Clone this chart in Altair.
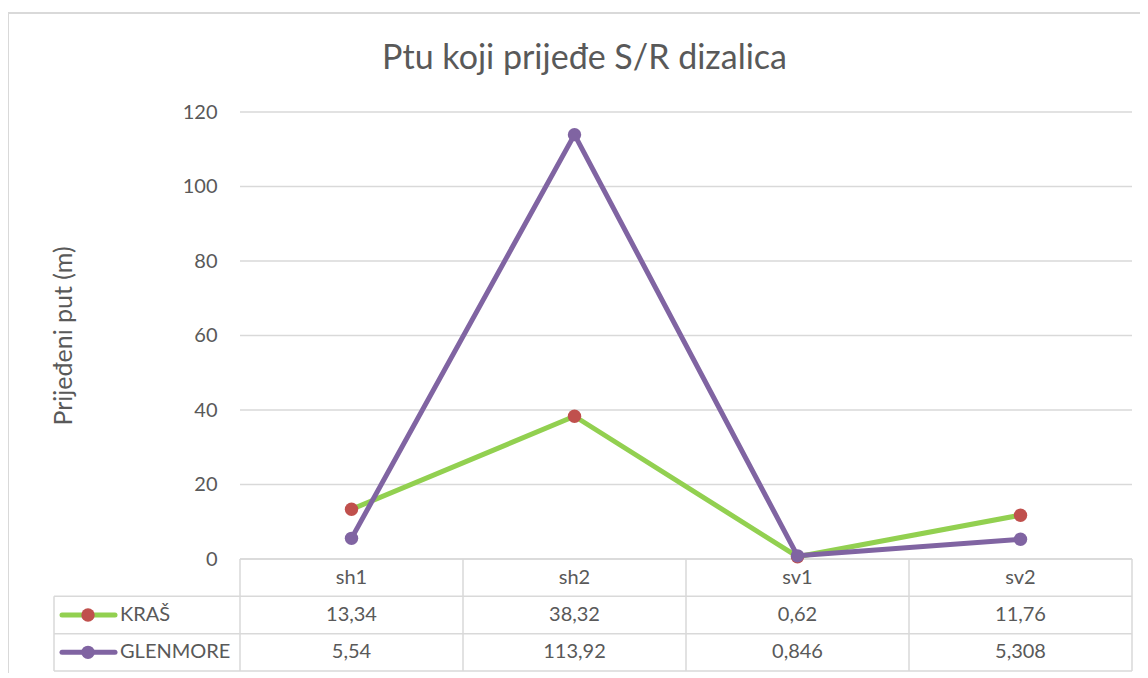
import altair as alt
import pandas as pd

# ---------------- data ----------------
categories = ["sh1", "sh2", "sv1", "sv2"]
series_names = ["KRAŠ", "GLENMORE"]
kras = [13.34, 38.32, 0.62, 11.76]
glenmore = [5.54, 113.92, 0.846, 5.308]
y_ticks = [0, 20, 40, 60, 80, 100, 120]

chart_title = "Ptu koji prijeđe S/R dizalica"
y_title = "Prijeđeni put (m)"

line_colors = ["#92D050", "#8064A2"]
marker_colors = ["#C0504D", "#8064A2"]

# ---------------- style ----------------
FONT = "Lato"
TEXT = "#595959"
GRID = "#D9D9D9"
FS = 20

W, H = 1078, 559          # plot area (includes data table)
PLOT_H = 447              # height of the value area
LABEL_COL = 186           # px width of the table's label column
COL_W = 223               # px width of a category column
X_MIN = -0.5 - LABEL_COL / COL_W
X_MAX = len(categories) - 0.5

x_scale = alt.Scale(domain=[X_MIN, X_MAX], nice=False, zero=False)
y_scale = alt.Scale(domain=[y_ticks[0], y_ticks[-1]], range=[PLOT_H, 0], nice=False, zero=False)
row_scale = alt.Scale(domain=[0, 3], range=[PLOT_H, H], nice=False, zero=False)

# ---------------- frames ----------------
series_values = [kras, glenmore]
rows = []
for s_i, (name, vals) in enumerate(zip(series_names, series_values)):
    for i, (cat, v) in enumerate(zip(categories, vals)):
        rows.append({"series": name, "s": s_i, "idx": i, "category": cat, "value": v,
                     "label": str(v).replace(".", ","), "row": s_i + 1.5})
df = pd.DataFrame(rows)

grid_df = pd.DataFrame({"v": y_ticks, "x0": -0.5, "x1": X_MAX})

hlines = pd.DataFrame({"r": [0, 1, 2, 3], "x0": [-0.5, X_MIN, X_MIN, X_MIN], "x1": X_MAX})
vx = [X_MIN] + [i - 0.5 for i in range(len(categories) + 1)]
vlines = pd.DataFrame({"x": vx, "r0": [1] + [0] * (len(categories) + 1), "r1": 3})

header_df = pd.DataFrame({"idx": list(range(len(categories))), "category": categories, "r": 0.5})
legend_df = pd.DataFrame({"series": series_names, "r": [1.5, 2.5], "x": X_MIN,
                          "line": line_colors, "marker": marker_colors})

# ---------------- layers ----------------
grid = alt.Chart(grid_df).mark_rule(color=GRID, strokeWidth=1.3).encode(
    x=alt.X("x0:Q", scale=x_scale, axis=None),
    x2="x1:Q",
    y=alt.Y("v:Q", scale=y_scale, axis=alt.Axis(
        values=y_ticks, grid=False, domain=False, ticks=False, offset=-LABEL_COL,
        labelFont=FONT, labelFontSize=FS, labelColor=TEXT, labelPadding=23,
        title=y_title, titleFont=FONT, titleFontSize=25, titleFontWeight="normal",
        titleColor=TEXT, titlePadding=106)),
)

series_layers = []
for s_i, name in enumerate(series_names):
    sub = alt.Chart(df).transform_filter(alt.datum.s == s_i)
    series_layers.append(sub.mark_line(color=line_colors[s_i], strokeWidth=5,
                                       strokeJoin="round", strokeCap="round").encode(
        x=alt.X("idx:Q", scale=x_scale, axis=None),
        y=alt.Y("value:Q", scale=y_scale, axis=None)))
    series_layers.append(sub.mark_circle(color=marker_colors[s_i], size=180, opacity=1).encode(
        x=alt.X("idx:Q", scale=x_scale, axis=None),
        y=alt.Y("value:Q", scale=y_scale, axis=None)))

h_rules = alt.Chart(hlines).mark_rule(color=GRID, strokeWidth=1.5).encode(
    x=alt.X("x0:Q", scale=x_scale, axis=None), x2="x1:Q",
    y=alt.Y("r:Q", scale=row_scale, axis=None))
v_rules = alt.Chart(vlines).mark_rule(color=GRID, strokeWidth=1.5).encode(
    x=alt.X("x:Q", scale=x_scale, axis=None),
    y=alt.Y("r0:Q", scale=row_scale, axis=None), y2="r1:Q")

header = alt.Chart(header_df).mark_text(font=FONT, fontSize=FS, color=TEXT).encode(
    x=alt.X("idx:Q", scale=x_scale, axis=None),
    y=alt.Y("r:Q", scale=row_scale, axis=None), text="category:N")

values_txt = alt.Chart(df).mark_text(font=FONT, fontSize=FS, color=TEXT).encode(
    x=alt.X("idx:Q", scale=x_scale, axis=None),
    y=alt.Y("row:Q", scale=row_scale, axis=None), text="label:N")

leg_line = alt.Chart(legend_df).mark_rule(strokeWidth=5, strokeCap="round", xOffset=8, x2Offset=61).encode(
    x=alt.X("x:Q", scale=x_scale, axis=None), x2="x:Q",
    y=alt.Y("r:Q", scale=row_scale, axis=None),
    color=alt.Color("line:N", scale=None))
leg_pt = alt.Chart(legend_df).mark_circle(size=180, opacity=1, xOffset=34).encode(
    x=alt.X("x:Q", scale=x_scale, axis=None),
    y=alt.Y("r:Q", scale=row_scale, axis=None),
    color=alt.Color("marker:N", scale=None))
leg_txt = alt.Chart(legend_df).mark_text(font=FONT, fontSize=FS, color=TEXT, align="left", dx=66).encode(
    x=alt.X("x:Q", scale=x_scale, axis=None),
    y=alt.Y("r:Q", scale=row_scale, axis=None), text="series:N")

# chart-area border (left and top edges of the Excel chart frame)
border_left = alt.Chart().mark_rule(color=GRID, strokeWidth=2).encode(
    x=alt.value(-46), y=alt.value(-99), y2=alt.value(H + 4))
border_top = alt.Chart().mark_rule(color=GRID, strokeWidth=2).encode(
    x=alt.value(-46), x2=alt.value(W + 8), y=alt.value(-99))

chart = alt.layer(
    border_left, border_top, grid, h_rules, v_rules, header, values_txt,
    leg_line, leg_pt, leg_txt, *series_layers
).resolve_scale(y="independent").properties(
    width=W, height=H,
    title=alt.TitleParams(chart_title, font=FONT, fontSize=34, fontWeight="normal",
                          color=TEXT, anchor="middle", frame="group", dx=-8.5, offset=-64),
    autosize=alt.AutoSizeParams(type="none"),
    padding={"left": 46, "top": 104, "right": 8, "bottom": 2},
    background="white",
).configure_view(stroke=None)

chart.save("out.html", embed_options={"renderer": "svg", "actions": False})
